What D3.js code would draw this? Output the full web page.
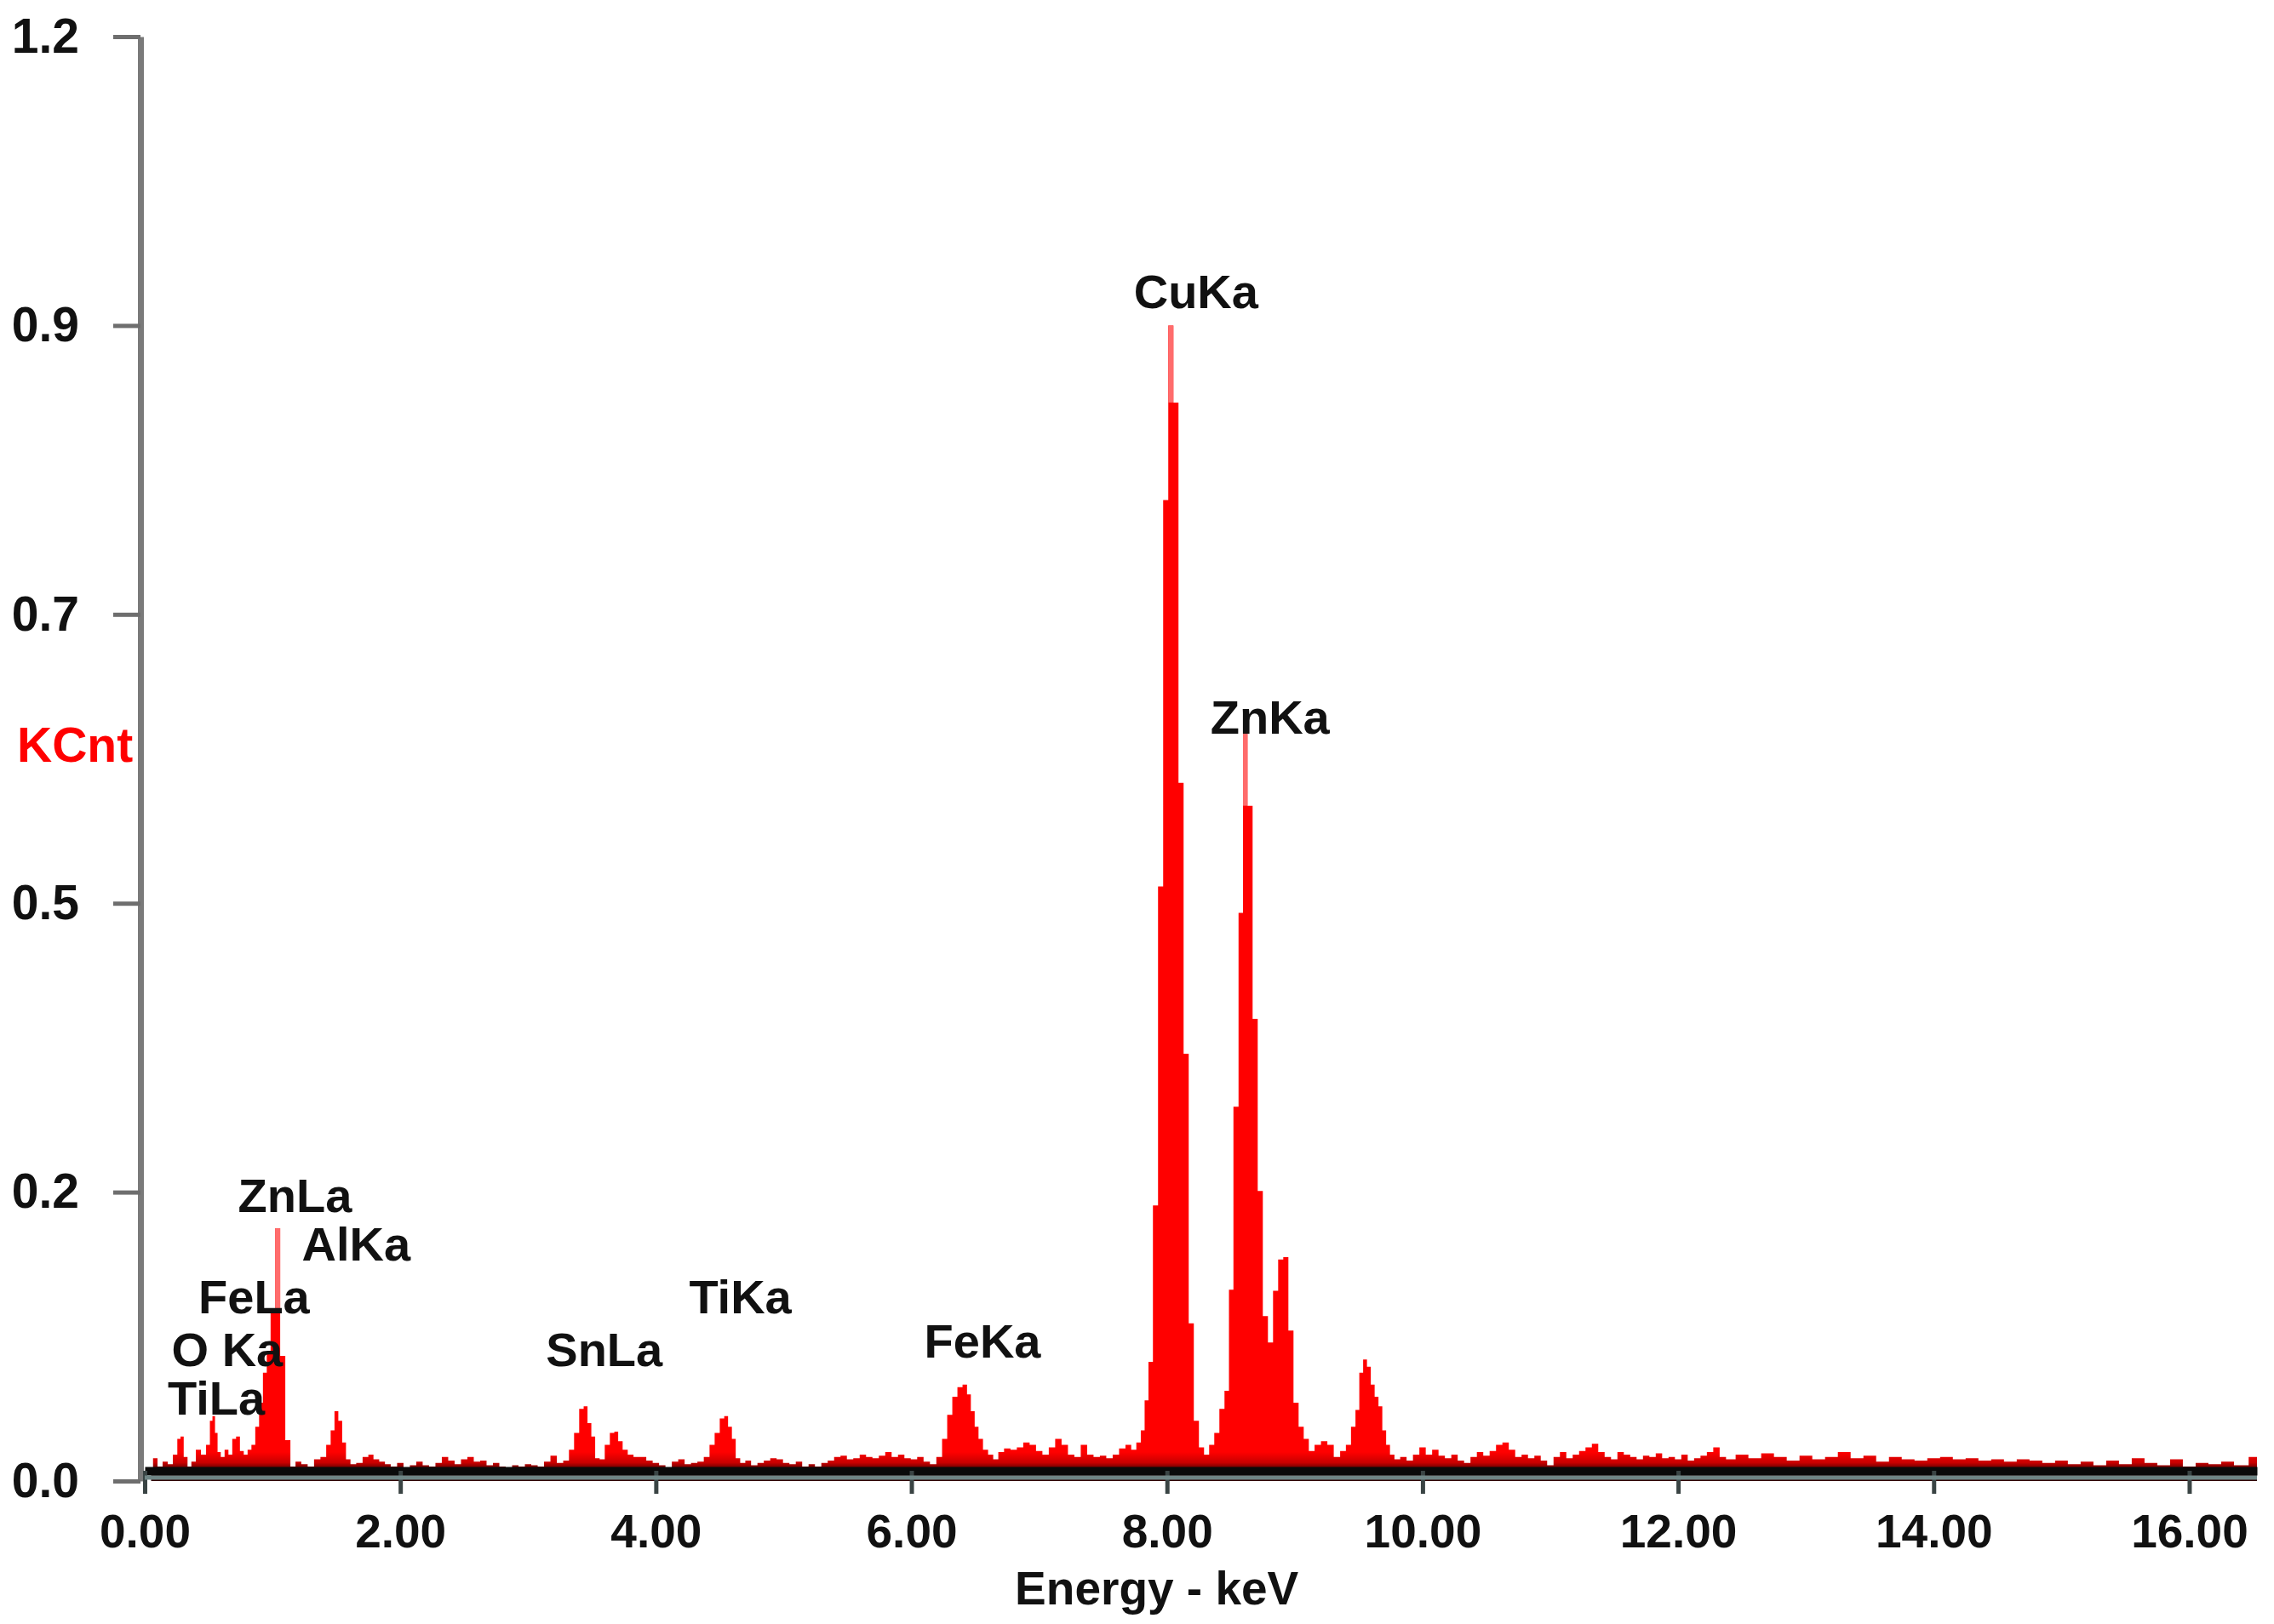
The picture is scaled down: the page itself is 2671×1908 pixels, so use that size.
<!DOCTYPE html>
<html>
<head>
<meta charset="utf-8">
<script src="https://cdn.jsdelivr.net/npm/d3@7"></script>
<style>
  html, body { margin: 0; padding: 0; background: #ffffff; }
  svg { display: block; }
  text { font-family: "Liberation Sans", Arial, "DejaVu Sans", sans-serif; font-weight: bold; }
</style>
</head>
<body>
<svg id="chart" width="2671" height="1908"></svg>
<script>
// ---------- DATA ----------
const energyKeV = [
  0.05,0.08,0.12,0.16,0.20,0.24,0.27,0.29,0.32,0.35,0.38,0.42,0.46,0.50,0.52,0.54,0.56,0.58,0.61,0.64,
  0.67,0.70,0.73,0.76,0.79,0.82,0.85,0.88,0.91,0.94,0.97,1.00,1.04,1.08,1.12,1.16,1.20,1.25,1.30,1.35,
  1.40,1.44,1.47,1.50,1.53,1.56,1.59,1.63,1.68,1.73,1.77,1.81,1.86,1.90,1.95,2.00,2.05,2.10,2.15,2.20,
  2.25,2.30,2.35,2.40,2.45,2.50,2.55,2.60,2.65,2.70,2.75,2.80,2.85,2.90,2.95,3.00,3.05,3.10,3.15,3.20,
  3.25,3.30,3.34,3.38,3.42,3.45,3.48,3.51,3.54,3.58,3.62,3.66,3.69,3.72,3.76,3.80,3.85,3.90,3.95,4.00,
  4.05,4.10,4.15,4.20,4.25,4.30,4.35,4.40,4.44,4.48,4.52,4.55,4.58,4.61,4.64,4.68,4.72,4.77,4.82,4.87,
  4.92,4.97,5.02,5.07,5.12,5.17,5.22,5.27,5.32,5.37,5.42,5.47,5.52,5.57,5.62,5.67,5.72,5.77,5.82,5.87,
  5.92,5.97,6.02,6.07,6.12,6.17,6.22,6.26,6.30,6.34,6.38,6.42,6.45,6.48,6.51,6.54,6.58,6.62,6.66,6.70,
  6.75,6.80,6.85,6.90,6.95,7.00,7.05,7.10,7.15,7.20,7.25,7.30,7.35,7.40,7.45,7.50,7.55,7.60,7.65,7.70,
  7.74,7.78,7.81,7.84,7.87,7.91,7.95,7.99,8.03,8.07,8.11,8.15,8.19,8.23,8.27,8.31,8.35,8.39,8.43,8.47,
  8.50,8.54,8.58,8.61,8.65,8.69,8.73,8.77,8.81,8.85,8.89,8.93,8.97,9.01,9.05,9.09,9.13,9.18,9.23,9.28,
  9.33,9.38,9.42,9.46,9.49,9.52,9.55,9.58,9.61,9.64,9.67,9.70,9.73,9.76,9.80,9.85,9.90,9.95,10.00,10.05,
  10.10,10.15,10.20,10.25,10.30,10.35,10.40,10.45,10.50,10.55,10.60,10.65,10.70,10.75,10.80,10.85,10.90,10.95,11.00,11.05,
  11.10,11.15,11.20,11.25,11.30,11.35,11.40,11.45,11.50,11.55,11.60,11.65,11.70,11.75,11.80,11.85,11.90,11.95,12.00,12.05,
  12.10,12.15,12.20,12.25,12.30,12.35,12.40,12.50,12.60,12.70,12.80,12.90,13.00,13.10,13.20,13.30,13.40,13.50,13.60,13.70,
  13.80,13.90,14.00,14.10,14.20,14.30,14.40,14.50,14.60,14.70,14.80,14.90,15.00,15.10,15.20,15.30,15.40,15.50,15.60,15.70,
  15.80,15.90,16.00,16.10,16.20,16.30,16.40,16.53
];
const countsKCnt = [
  0.006,0.019,0.012,0.016,0.014,0.022,0.035,0.037,0.020,0.012,0.016,0.026,0.022,0.030,0.050,0.054,0.040,0.024,0.020,0.026,
  0.022,0.035,0.037,0.025,0.022,0.026,0.030,0.045,0.065,0.090,0.106,0.140,0.210,0.104,0.034,0.012,0.016,0.014,0.012,0.018,
  0.020,0.030,0.042,0.058,0.050,0.032,0.018,0.014,0.015,0.020,0.022,0.018,0.016,0.014,0.012,0.015,0.011,0.013,0.016,0.013,
  0.012,0.015,0.020,0.017,0.014,0.018,0.020,0.016,0.017,0.013,0.015,0.012,0.011,0.013,0.012,0.014,0.013,0.012,0.016,0.021,
  0.015,0.017,0.026,0.040,0.060,0.062,0.048,0.037,0.019,0.018,0.030,0.040,0.041,0.033,0.026,0.022,0.020,0.020,0.017,0.015,
  0.013,0.011,0.016,0.018,0.014,0.015,0.016,0.020,0.030,0.040,0.052,0.054,0.045,0.035,0.019,0.015,0.017,0.013,0.015,0.017,
  0.019,0.018,0.015,0.014,0.016,0.012,0.014,0.012,0.015,0.017,0.020,0.021,0.018,0.019,0.022,0.020,0.019,0.021,0.024,0.020,
  0.022,0.019,0.018,0.020,0.016,0.014,0.020,0.035,0.055,0.070,0.078,0.080,0.072,0.058,0.045,0.035,0.026,0.022,0.018,0.024,
  0.027,0.026,0.028,0.032,0.030,0.025,0.022,0.028,0.035,0.030,0.022,0.020,0.030,0.022,0.020,0.021,0.019,0.022,0.027,0.030,
  0.026,0.032,0.042,0.067,0.099,0.229,0.494,0.815,0.960,0.896,0.580,0.355,0.131,0.050,0.028,0.022,0.030,0.040,0.060,0.075,
  0.159,0.311,0.472,0.621,0.561,0.384,0.241,0.137,0.115,0.158,0.184,0.186,0.125,0.065,0.045,0.035,0.025,0.030,0.033,0.030,
  0.020,0.025,0.030,0.045,0.059,0.090,0.101,0.095,0.080,0.070,0.062,0.042,0.030,0.022,0.018,0.020,0.017,0.022,0.028,0.022,
  0.026,0.021,0.019,0.022,0.017,0.015,0.020,0.024,0.021,0.025,0.030,0.032,0.026,0.020,0.022,0.019,0.021,0.017,0.013,0.020,
  0.024,0.019,0.022,0.025,0.028,0.031,0.024,0.020,0.018,0.024,0.022,0.020,0.018,0.021,0.020,0.023,0.019,0.020,0.018,0.022,
  0.017,0.019,0.021,0.024,0.028,0.020,0.018,0.022,0.019,0.023,0.020,0.017,0.021,0.018,0.020,0.024,0.019,0.021,0.016,0.020,
  0.018,0.017,0.019,0.020,0.018,0.019,0.017,0.018,0.016,0.018,0.017,0.015,0.017,0.014,0.016,0.013,0.017,0.014,0.019,0.015,
  0.013,0.018,0.012,0.015,0.014,0.016,0.013,0.020
];

// single-channel spike tops that render lighter in the original
const spikeKeV = [1.04, 8.03, 8.61];

const xTickValues = [0, 2, 4, 6, 8, 10, 12, 14, 16];
const yTickValues = [0, 0.24, 0.48, 0.72, 0.96, 1.2];
const yTickLabels = ["0.0", "0.2", "0.5", "0.7", "0.9", "1.2"];

// peak annotations: text, left energy, level (KCnt) of text centre
const peakNames  = ["CuKa", "ZnKa", "ZnLa", "AlKa", "FeLa", "TiKa", "O Ka", "SnLa", "FeKa", "TiLa"];
const peakKeV    = [7.74, 8.34, 0.73, 1.23, 0.42, 4.26, 0.21, 3.14, 6.10, 0.18];
const peakLevel  = [0.988, 0.635, 0.237, 0.197, 0.153, 0.153, 0.109, 0.109, 0.116, 0.069];

const xTitle = "Energy - keV";
const yTitle = "KCnt";

// ---------- CHART ----------
const svg = d3.select("#chart");
const x = d3.scaleLinear().domain([0, 16.53]).range([170, 2651]);
const y = d3.scaleLinear().domain([0, 1.2]).range([1740, 43]);

const spectrum = energyKeV.map((e, i) => ({ e: e, c: countsKCnt[i] }));

const defs = svg.append("defs");
const grad = defs.append("linearGradient")
  .attr("id", "baseShade").attr("gradientUnits", "userSpaceOnUse")
  .attr("x1", 0).attr("x2", 0).attr("y1", y(0.024)).attr("y2", y(0.008));
grad.append("stop").attr("offset", 0).attr("stop-color", "#ff0000");
grad.append("stop").attr("offset", 0.55).attr("stop-color", "#c80000");
grad.append("stop").attr("offset", 1).attr("stop-color", "#300000");

const area = d3.area()
  .x(d => x(d.e))
  .y0(y(0))
  .y1(d => y(d.c))
  .curve(d3.curveStep);

svg.append("path")
  .datum(spectrum)
  .attr("d", area)
  .attr("fill", "url(#baseShade)");

// lighter tips of the single-channel spikes
const spikes = spikeKeV.map(k => {
  const i = energyKeV.findIndex(e => Math.abs(e - k) < 1e-6);
  return {
    x0: (energyKeV[i - 1] + energyKeV[i]) / 2,
    x1: (energyKeV[i] + energyKeV[i + 1]) / 2,
    lo: Math.max(countsKCnt[i - 1], countsKCnt[i + 1]),
    hi: countsKCnt[i]
  };
});
svg.append("g").selectAll("rect")
  .data(spikes)
  .join("rect")
  .attr("x", d => x(d.x0))
  .attr("width", d => x(d.x1) - x(d.x0))
  .attr("y", d => y(d.hi))
  .attr("height", d => y(d.lo) - y(d.hi))
  .attr("fill", "#ff6c6c");

// Y axis
const yAxis = d3.axisLeft(y)
  .tickValues(yTickValues)
  .tickFormat((d, i) => yTickLabels[i])
  .tickSize(32).tickSizeOuter(0).tickPadding(40);
const gy = svg.append("g").attr("transform", "translate(165,0)").call(yAxis);
gy.select(".domain").attr("stroke", "#7a7a7a").attr("stroke-width", 7);
gy.selectAll(".tick line").attr("stroke", "#6e6e6e").attr("stroke-width", 5);
gy.selectAll(".tick text").attr("font-size", 57).attr("fill", "#111").attr("font-weight", "bold");

// X axis
const xAxis = d3.axisBottom(x)
  .tickValues(xTickValues)
  .tickFormat(d3.format(".2f"))
  .tickSize(27).tickSizeOuter(0).tickPadding(24);
const gx = svg.append("g").attr("transform", "translate(0,1728)").call(xAxis);
gx.select(".domain").attr("stroke", "#0a0a0a").attr("stroke-width", 10);
gx.selectAll(".tick line").attr("stroke", "#3a4444").attr("stroke-width", 5);
gx.selectAll(".tick text").attr("font-size", 55).attr("fill", "#111").attr("font-weight", "bold");
gx.append("line")
  .attr("x1", x(0)).attr("x2", x(16.53))
  .attr("y1", 8).attr("y2", 8)
  .attr("stroke", "#6f8585").attr("stroke-width", 5);

// axis titles
svg.append("text")
  .attr("x", x(7.92)).attr("y", 1885)
  .attr("text-anchor", "middle")
  .attr("font-size", 55).attr("fill", "#111")
  .text(xTitle);

svg.append("text")
  .attr("x", 20).attr("y", y(0.612))
  .attr("dominant-baseline", "central")
  .attr("font-size", 57).attr("fill", "#ff0000")
  .text(yTitle);

// peak labels
svg.append("g").selectAll("text")
  .data(peakNames)
  .join("text")
  .attr("x", (d, i) => x(peakKeV[i]))
  .attr("y", (d, i) => y(peakLevel[i]))
  .attr("dominant-baseline", "central")
  .attr("font-size", 56)
  .attr("fill", "#111")
  .text(d => d);
</script>
</body>
</html>
